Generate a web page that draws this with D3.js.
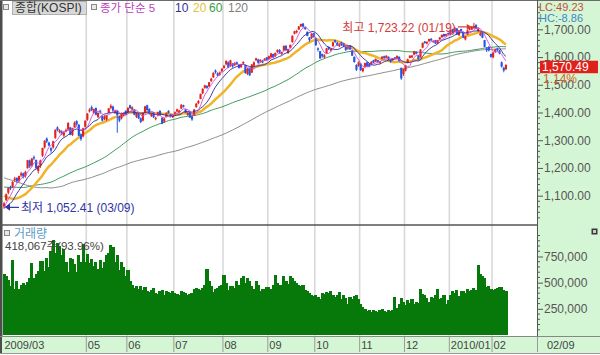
<!DOCTYPE html>
<html><head><meta charset="utf-8">
<script src="https://cdn.jsdelivr.net/npm/d3@7"></script>
<style>
body{margin:0;background:#fff;}
svg{display:block;}
text{font-family:"Liberation Sans","DejaVu Sans","Noto Sans CJK KR",sans-serif;}
</style>
</head><body><svg id="c" width="600" height="355"></svg>
<script>
// ---------------- DATA ----------------
const startDate = "2009-03-09", endDate = "2010-02-09";
const holidays = ["2009-05-01","2009-05-05","2009-10-02","2009-12-25","2009-12-31","2010-01-01"];
// closes before the visible range (2008-09-12 .. 2009-03-06), used for moving averages
const preCloses = [
1477,1387,1391,1365,1475,1512,1501,1487,1504,1501,1454,1448,
1440,1419,1366,1358,1286,1294,1241,1286,1365,1340,1213,1180,1193,1185,1134,1049,938,946,999,1010,1125,1113,
1124,1093,1180,1092,1139,1174,1123,1095,1032,1089,1097,1035,1046,1004,1003,1005,1044,1028,1068,1076,
1090,1030,1041,1054,1029,1121,1123,1165,1150,1105,1165,1163,1183,1188,1179,1157,1115,1123,1106,1125,1124,
1157,1173,1194,1206,1184,1181,1136,1107,1115,1086,1101,1133,1111,1107,1128,1093,1135,1164,1162,
1127,1146,1170,1179,1196,1201,1191,1192,1165,1176,1155,1127,1128,1108,1075,1100,1081,1054,1077,1063,
1026,1018,1059,1059,1072];
const opens = [
1062,1085,1112,1131,1133,1158,1163,1155,1174,1180,1172,1200,1226,1210,1238,1228,1190,
1208,1245,1275,1305,1290,1270,1275,1310,1345,1330,1330,1318,1335,1340,1345,1320,1348,1368,1355,1320,1315,1350,
1375,1405,1418,1400,1415,1385,1405,1385,1378,1375,1400,1418,1420,1400,1405,1385,1380,1390,1405,
1400,1425,1412,1410,1385,1395,1378,1372,1402,1425,1412,1388,1400,1378,1390,1405,1380,1368,1385,1405,1392,1385,
1395,1405,1400,1415,1425,1410,1392,1400,1385,1390,1420,1435,1450,1470,1490,1495,1495,1515,1528,1550,1540,1538,1550,
1562,1575,1580,1570,1575,1572,1580,1570,1565,1578,1570,1540,1560,1545,1570,1590,1590,1585,1585,1590,1598,
1595,1600,1610,1605,1620,1625,1612,1625,1640,1615,1635,1655,1685,1690,1700,1712,1720,1708,1690,1670,1670,1685,
1668,1630,1620,1610,1600,1615,1635,1625,1640,1660,1650,1640,1652,1648,1635,1632,1640,1622,1600,1570,1570,
1575,1550,1565,1580,1575,1575,1588,1585,1588,1580,1595,1602,1598,1600,1588,1590,1598,1598,1600,1560,1540,
1552,1580,1598,1600,1610,1618,1605,1600,1635,1655,1650,1658,1665,1655,1660,1650,1665,1672,1682,1678,1686,
1681,1700,1692,1702,1680,1700,1690,1665,1682,1700,1700,1705,1715,1695,1680,1690,1660,1630,1635,1610,
1600,1620,1630,1622,1580,1560,1558];
const highs = [
1078,1108,1130,1136,1152,1168,1166,1172,1186,1183,1190,1229,1230,1236,1245,1230,1210,
1230,1273,1300,1310,1295,1275,1298,1340,1350,1340,1336,1332,1342,1365,1348,1345,1368,1372,1358,1325,1345,1372,
1398,1415,1425,1414,1418,1400,1410,1388,1390,1392,1416,1430,1425,1410,1408,1388,1400,1400,1408,
1418,1428,1422,1412,1400,1398,1382,1400,1424,1428,1415,1398,1402,1385,1403,1408,1382,1380,1400,1408,1395,1394,
1404,1414,1410,1430,1428,1412,1402,1403,1390,1412,1434,1445,1468,1488,1500,1498,1510,1525,1545,1555,1545,1548,1560,
1572,1588,1584,1590,1578,1582,1584,1574,1576,1585,1572,1560,1562,1575,1584,1598,1594,1592,1590,1596,1600,
1605,1615,1612,1616,1628,1628,1620,1642,1642,1630,1645,1678,1695,1698,1712,1720,1722,1710,1692,1672,1686,1688,
1670,1635,1622,1612,1610,1633,1638,1632,1655,1662,1655,1650,1655,1650,1638,1638,1642,1625,1602,1574,1584,
1578,1562,1580,1582,1578,1585,1590,1595,1590,1586,1603,1605,1606,1602,1592,1596,1600,1606,1602,1562,1558,
1572,1594,1606,1608,1622,1620,1607,1628,1652,1658,1656,1666,1668,1660,1662,1662,1672,1681,1684,1684,1688,
1698,1702,1708,1705,1697,1702,1692,1676,1698,1706,1712,1723.22,1718,1708,1692,1693,1662,1636,1640,1612,
1618,1630,1634,1626,1584,1565,1574];
const lows = [
1052.41,1080,1105,1120,1128,1150,1145,1148,1168,1162,1165,1198,1200,1205,1228,1195,1180,
1200,1240,1270,1290,1278,1255,1270,1305,1332,1325,1318,1312,1328,1335,1318,1315,1345,1352,1314,1298,1310,1345,
1370,1400,1405,1395,1390,1380,1395,1368,1372,1370,1398,1412,1403,1396,1327,1365,1375,1385,1390,
1398,1412,1408,1390,1380,1376,1362,1368,1400,1406,1392,1384,1380,1372,1386,1388,1358,1362,1382,1396,1382,1380,
1390,1400,1396,1412,1418,1398,1388,1380,1370,1388,1418,1430,1448,1466,1486,1485,1492,1510,1525,1540,1530,1532,1546,
1558,1570,1560,1565,1562,1568,1572,1558,1560,1575,1540,1535,1532,1542,1566,1585,1576,1580,1578,1586,1588,
1590,1598,1596,1600,1615,1612,1608,1622,1624,1612,1632,1652,1682,1685,1698,1708,1706,1698,1675,1655,1665,1670,
1640,1620,1594,1598,1595,1612,1625,1620,1638,1650,1640,1636,1640,1636,1622,1626,1625,1604,1580,1550,1565,
1550,1545,1560,1563,1563,1572,1578,1582,1580,1576,1592,1594,1596,1588,1580,1585,1594,1595,1584,1518,1532,
1548,1578,1595,1596,1606,1610,1590,1598,1632,1648,1646,1655,1658,1652,1647,1648,1662,1670,1672,1674,1680,
1678,1686,1690,1680,1676,1690,1668,1660,1680,1696,1698,1702,1700,1690,1675,1668,1635,1618,1620,1598,
1596,1615,1620,1610,1562,1545,1552];
const closes = [
1071,1104,1127,1127,1149,1161,1154,1170,1179,1170,1185,1227,1207,1233,1237,1201,1206,
1226,1271,1297,1297,1282,1264,1295,1336,1338,1335,1324,1327,1336,1361,1321,1342,1362,1359,1317,1305,1342,1369,
1395,1409,1410,1411,1393,1398,1402,1372,1385,1389,1414,1423,1408,1404,1392,1372,1397,1396,1395,
1416,1417,1418,1393,1397,1380,1367,1397,1421,1410,1396,1395,1384,1380,1400,1391,1361,1377,1398,1399,1387,1390,
1400,1410,1406,1427,1422,1400,1397,1383,1376,1410,1431,1440,1466,1484,1497,1490,1508,1521,1542,1546,1535,1543,1557,
1567,1585,1563,1587,1567,1577,1576,1562,1573,1581,1543,1556,1535,1572,1580,1594,1580,1589,1581,1593,1591,
1602,1612,1600,1614,1624,1617,1617,1639,1626,1628,1643,1676,1692,1693,1709,1718,1711,1702,1677,1662,1683,1673,
1644,1628,1596,1604,1605,1630,1630,1628,1652,1656,1645,1646,1645,1641,1627,1634,1629,1606,1583,1555,1580,
1554,1559,1577,1567,1568,1582,1581,1592,1583,1583,1600,1598,1604,1592,1584,1594,1597,1603,1586,1524,1555,
1569,1591,1604,1604,1620,1613,1593,1626,1650,1652,1654,1664,1661,1657,1650,1660,1670,1679,1676,1682,1683,
1696,1690,1705,1683,1695,1694,1671,1673,1695,1703,1709,1711,1703,1701,1684,1671,1638,1626,1625,1602,
1615,1626,1626,1614,1567,1553,1570.49];
// volume in thousands of shares
const volumes = [
580,560,530,470,720,440,520,440,480,500,480,510,540,690,540,580,610,
710,710,610,740,650,800,910,780,880,850,760,820,700,600,740,730,680,600,760,700,870,700,
770,690,730,660,700,630,720,640,700,760,780,860,840,700,760,620,700,650,560,
620,520,480,450,470,440,470,430,460,420,410,430,450,400,390,420,430,380,420,410,400,420,
400,390,380,420,410,405,380,395,400,440,450,440,430,450,480,630,520,470,410,440,450,470,480,
570,500,430,470,470,450,520,480,540,560,500,540,520,470,440,520,480,420,440,440,460,
460,440,480,570,500,480,480,560,520,490,560,540,520,500,480,470,480,430,420,400,380,370,
380,360,340,400,390,410,400,420,380,360,380,410,340,380,350,300,360,340,370,380,340,
300,270,250,230,240,220,240,230,220,240,250,230,220,240,230,240,360,260,300,350,320,
290,330,310,340,300,320,310,440,390,380,350,320,360,350,380,440,340,350,380,300,330,
380,420,400,430,370,420,420,400,440,420,430,450,430,670,580,560,540,460,470,440,
430,440,450,460,460,430,418.067];
const monthKeys = ["2009-03","2009-05","2009-06","2009-07","2009-08","2009-09","2009-10","2009-11","2009-12","2010-01","2010-02"];
const monthLabels = ["2009/03","05","06","07","08","09","10","11","12","2010/01","02"];
const priceTicks = [1100,1200,1300,1400,1500,1600,1700];
const volTicks = [250,500,750];
const maPeriods = [120,60,20,10,5];
const maColors = ["#8c8c8c","#3f9a5c","#f0b42a","#2c2c96","#d44ad4"];
const maWidths = [1,1,2.5,1,1];
const legendItems = [["종가 단순 5","#c040c0"],["10","#303090"],["20","#e4c23a"],["60","#3c9c3c"],["120","#808080"]];
const lcText = "LC:49.23", hcText = "HC:-8.86", changeText = "1.14%";
const volSummary = "418,067주(93.96%)";

// ---------------- CHART ----------------
const svg = d3.select("#c");
const parse = d3.utcParse("%Y-%m-%d"), fmtKey = d3.utcFormat("%Y-%m-%d"), fmtMonth = d3.utcFormat("%Y-%m");
const dates = d3.utcDay.range(parse(startDate), d3.utcDay.offset(parse(endDate), 1))
  .filter(d => d.getUTCDay() % 6 !== 0 && !holidays.includes(fmtKey(d)));
const n = closes.length;
const idx = d3.range(n);
const x = d3.scaleBand().domain(idx).range([3, 507]).padding(0);
const step = x.step();
const y = d3.scaleLinear().domain([1000, 1800]).range([223.4, 1.6]);
const yv = d3.scaleLinear().domain([0, 1000]).range([335, 256.5 - 250 * 78.5 / 750]);
const GREEN_BG = "#d5f6d5";

svg.append("rect").attr("width", 600).attr("height", 355).attr("fill", "#fff");

// month grid lines
const monthStart = monthKeys.map(k => dates.findIndex(d => fmtMonth(d) === k));
svg.append("g").selectAll("line").data(monthStart.slice(1)).join("line")
  .attr("x1", i => x(i)).attr("x2", i => x(i)).attr("y1", 0).attr("y2", 336)
  .attr("stroke", "#d9d9d9").attr("stroke-width", 1.6);

// moving averages
const all = preCloses.concat(closes);
const P = preCloses.length;
const maLine = d3.line().x(d => x(d.i) + step / 2).y(d => y(d.v));
function maSeries(p) { return idx.map(i => ({ i, v: d3.mean(all.slice(P + i - p + 1, P + i + 1)) })); }
const maG = svg.append("g");
[0, 1, 2].forEach(k => maG.append("path").datum(maSeries(maPeriods[k])).attr("d", maLine)
  .attr("fill", "none").attr("stroke", maColors[k]).attr("stroke-width", maWidths[k]));

// candles
const UP = "#e3231e", DOWN = "#2356e6";
const cg = svg.append("g");
cg.selectAll("line").data(idx).join("line")
  .attr("x1", i => x(i) + step / 2).attr("x2", i => x(i) + step / 2)
  .attr("y1", i => y(highs[i])).attr("y2", i => y(lows[i]))
  .attr("stroke", i => closes[i] >= opens[i] ? UP : DOWN).attr("stroke-width", 1);
cg.selectAll("rect").data(idx).join("rect")
  .attr("x", i => x(i)).attr("width", step)
  .attr("y", i => y(Math.max(opens[i], closes[i])) - 0.3)
  .attr("height", i => Math.max(1.3, Math.abs(y(opens[i]) - y(closes[i])) + 0.6))
  .attr("fill", i => closes[i] >= opens[i] ? UP : DOWN);

const maTop = svg.append("g");
[3, 4].forEach(k => maTop.append("path").datum(maSeries(maPeriods[k])).attr("d", maLine)
  .attr("fill", "none").attr("stroke", maColors[k]).attr("stroke-width", maWidths[k]).attr("opacity", 0.9));

// volume bars
svg.append("g").attr("shape-rendering", "crispEdges").selectAll("rect").data(idx).join("rect")
  .attr("x", i => x(i) - 0.5).attr("width", step + 1)
  .attr("y", i => yv(volumes[i])).attr("height", i => yv(0) - yv(volumes[i]))
  .attr("fill", "#07790a");

// frame lines
svg.append("rect").attr("x", 0).attr("y", 0).attr("width", 2.5).attr("height", 353).attr("fill", "#4d4d4d");
svg.append("line").attr("x1", 0).attr("x2", 600).attr("y1", 0.5).attr("y2", 0.5).attr("stroke", "#6a6a6a");
svg.append("line").attr("x1", 0).attr("x2", 537).attr("y1", 225).attr("y2", 225).attr("stroke", "#555").attr("stroke-width", 1.5);

// right axis panel
svg.append("rect").attr("x", 537).attr("y", 1).attr("width", 63).attr("height", 335).attr("fill", GREEN_BG);
svg.append("line").attr("x1", 537.5).attr("x2", 537.5).attr("y1", 0).attr("y2", 336).attr("stroke", "#555");

const axG = svg.append("g").attr("transform", "translate(537,0)");
const priceAxis = d3.axisRight(y).tickValues(priceTicks).tickFormat(d3.format(",.2f")).tickSize(6).tickPadding(1);
axG.call(priceAxis);
const minorP = d3.range(1020, 1800, 20).filter(v => v % 100 !== 0);
axG.append("g").selectAll("line").data(minorP).join("line")
  .attr("x1", 0).attr("x2", 3).attr("y1", d => y(d)).attr("y2", d => y(d)).attr("stroke", "#555");
const vAxG = svg.append("g").attr("transform", "translate(537,0)");
vAxG.call(d3.axisRight(yv).tickValues(volTicks).tickFormat(d => d3.format(",")(d * 1000)).tickSize(6).tickPadding(1));
vAxG.append("g").selectAll("line").data(d3.range(50, 1000, 50).filter(v => v % 250 !== 0 && yv(v) > 230)).join("line")
  .attr("x1", 0).attr("x2", 3).attr("y1", d => yv(d)).attr("y2", d => yv(d)).attr("stroke", "#555");
[axG, vAxG].forEach(g => {
  g.select(".domain").remove();
  g.selectAll(".tick line").attr("stroke", "#555");
  g.selectAll(".tick text").attr("font-size", 12).attr("fill", "#555").attr("font-family", "Liberation Sans, DejaVu Sans, sans-serif");
});

// LC / HC
svg.append("text").attr("x", 539).attr("y", 11).attr("font-size", 11).attr("fill", "#c2503c").text(lcText);
svg.append("text").attr("x", 539).attr("y", 22).attr("font-size", 11).attr("fill", "#3d86c4").text(hcText);

// current price box
const last = n - 1;
const yc = y(closes[last]);
svg.append("rect").attr("x", 540).attr("y", yc - 4.5).attr("width", 58).attr("height", 12.5).attr("fill", "#e0201a");
svg.append("text").attr("x", 542).attr("y", yc + 6).attr("font-size", 12).attr("fill", "#fff").text(d3.format(",.2f")(closes[last]));
svg.append("text").attr("x", 543).attr("y", yc + 17.5).attr("font-size", 12).attr("fill", "#d0652a").text(changeText);

// small icon
svg.append("rect").attr("x", 591.5).attr("y", 228.5).attr("width", 6).attr("height", 6).attr("fill", "#3a3a3a");
svg.append("rect").attr("x", 593).attr("y", 230).attr("width", 3).attr("height", 3).attr("fill", "#ccc");

// x-axis band
svg.append("rect").attr("x", 2).attr("y", 336).attr("width", 598).attr("height", 17).attr("fill", GREEN_BG);
svg.append("line").attr("x1", 0).attr("x2", 600).attr("y1", 336.5).attr("y2", 336.5).attr("stroke", "#888");
svg.append("line").attr("x1", 0).attr("x2", 600).attr("y1", 353.5).attr("y2", 353.5).attr("stroke", "#999");
const tickX = monthStart.map((i, k) => k === 0 ? 3 : x(i));
const xg = svg.append("g");
xg.selectAll("line").data(tickX.slice(1).concat([537.5])).join("line")
  .attr("x1", d => d).attr("x2", d => d).attr("y1", 337).attr("y2", 352).attr("stroke", "#9a9a9a");
xg.selectAll("text").data(monthLabels).join("text")
  .attr("x", (d, k) => tickX[k] + 1.5).attr("y", 349).attr("font-size", 11).attr("fill", "#444").text(d => d);
xg.append("text").attr("x", 547).attr("y", 349).attr("font-size", 11).attr("fill", "#444")
  .text(d3.utcFormat("%m/%d")(dates[last]));

// legend
const lg = svg.append("g");
lg.append("rect").attr("x", 3.5).attr("y", 4.5).attr("width", 5).attr("height", 5).attr("fill", "#e8e8e8").attr("stroke", "#888");
lg.append("rect").attr("x", 12.5).attr("y", 1.5).attr("width", 74).attr("height", 13).attr("fill", "#d8d8d8").attr("stroke", "#b0b0b0");
lg.append("text").attr("x", 15).attr("y", 12).attr("font-size", 12).attr("fill", "#333").text("종합(KOSPI)");
lg.append("rect").attr("x", 91.5).attr("y", 4.5).attr("width", 5).attr("height", 5).attr("fill", "#e8e8e8").attr("stroke", "#888");
const legX = [100, 175, 193, 209, 228];
legendItems.forEach((it, k) => lg.append("text").attr("x", legX[k]).attr("y", 12)
  .attr("font-size", k === 0 ? 11.5 : 12).attr("fill", it[1]).text(it[0]));

// high / low annotations
const iHi = d3.maxIndex(highs), iLo = d3.minIndex(lows);
const fmtMD = d3.utcFormat("%m/%d");
const hiX = x(iHi), hiY = y(highs[iHi]) + 4;
svg.append("text").attr("x", hiX - 17).attr("y", hiY + 5).attr("text-anchor", "end").attr("font-size", 12).attr("fill", "#d23a3a")
  .text(`최고 ${d3.format(",.2f")(highs[iHi])} (${fmtMD(dates[iHi])})`);
svg.append("line").attr("x1", hiX - 15).attr("x2", hiX - 4).attr("y1", hiY).attr("y2", hiY).attr("stroke", "#d23a3a").attr("stroke-width", 1.2);
svg.append("path").attr("d", `M${hiX - 1},${hiY} l-5,-3 v6 z`).attr("fill", "#d23a3a");
const loX = x(iLo) + 2, loY = y(lows[iLo]) - 1.5;
svg.append("line").attr("x1", loX + 2).attr("x2", loX + 14).attr("y1", loY).attr("y2", loY).attr("stroke", "#2f33a6").attr("stroke-width", 1.2);
svg.append("path").attr("d", `M${loX},${loY} l5,-3.5 v7 z`).attr("fill", "#2f33a6");
svg.append("text").attr("x", loX + 16).attr("y", loY + 5).attr("font-size", 12).attr("fill", "#2f33a6")
  .text(`최저 ${d3.format(",.2f")(lows[iLo])} (${fmtMD(dates[iLo])})`);

// volume label
svg.append("rect").attr("x", 4.5).attr("y", 230.5).attr("width", 5).attr("height", 5).attr("fill", "#e8e8e8").attr("stroke", "#888");
svg.append("text").attr("x", 14).attr("y", 238).attr("font-size", 12).attr("fill", "#5d9cc4").text("거래량");
svg.append("text").attr("x", 5).attr("y", 250).attr("font-size", 11.5).attr("fill", "#444").text(volSummary);
</script>
</body></html>
